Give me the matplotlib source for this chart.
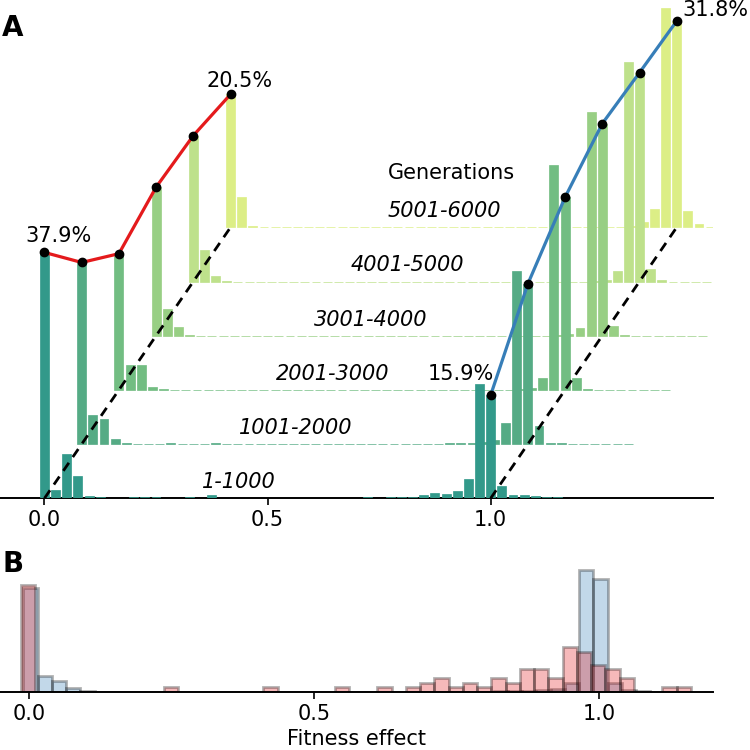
import matplotlib
matplotlib.use("Agg")
import matplotlib.pyplot as plt
import numpy as np

# ---------------- Panel A data (percent of mutations per bin) ----------------
bin_width_a = 0.025
bin_centers_a = np.arange(50) * bin_width_a          # bins centred on 0, 0.025, ... 1.225
gen_labels = ["1-1000", "1001-2000", "2001-3000", "3001-4000", "4001-5000", "5001-6000"]

gen1 = [37.9, 1.3, 6.8, 3.5, 0.36, 0.15, 0, 0.1, 0.15, 0.25,
        0.25, 0.1, 0, 0.2, 0, 0.5, 0, 0, 0.05, 0,
        0.05, 0, 0, 0.05, 0, 0.05, 0.1, 0.05, 0.1, 0.15,
        0.1, 0.15, 0.15, 0.26, 0.5, 0.87, 0.62, 1.08, 2.9, 17.6,
        15.9, 1.95, 0.5, 0.46, 0.36, 0.2, 0.2, 0.05, 0.1, 0]
gen2 = [28.0, 4.5, 3.85, 0.77, 0.1, 0.05, 0, 0, 0.1, 0.05,
        0, 0.05, 0.1, 0, 0, 0, 0.05, 0, 0, 0,
        0, 0.05, 0, 0, 0, 0, 0.05, 0, 0, 0.05,
        0, 0.05, 0.05, 0.1, 0.1, 0.15, 0.3, 0.67, 3.2, 26.7,
        24.7, 2.8, 0.15, 0.1, 0.05, 0, 0, 0, 0, 0]
gen3 = [21.0, 3.85, 3.8, 0.5, 0.1, 0, 0, 0, 0, 0,
        0, 0, 0, 0, 0, 0, 0, 0, 0, 0,
        0, 0, 0, 0, 0, 0, 0, 0, 0, 0,
        0, 0, 0, 0, 0, 0.05, 0.1, 0.3, 1.85, 34.6,
        29.7, 1.85, 0.1, 0, 0, 0, 0, 0, 0, 0]
gen4 = [22.9, 4.06, 1.39, 0.1, 0, 0, 0, 0, 0, 0,
        0, 0, 0, 0, 0, 0, 0, 0, 0, 0,
        0, 0, 0, 0, 0, 0, 0, 0, 0, 0,
        0, 0, 0, 0, 0, 0, 0.05, 0.2, 1.2, 34.5,
        32.7, 1.5, 0.1, 0, 0, 0, 0, 0, 0, 0]
gen5 = [22.5, 4.9, 0.92, 0.15, 0, 0, 0, 0, 0, 0,
        0, 0, 0, 0, 0, 0, 0, 0, 0, 0,
        0, 0, 0, 0, 0, 0, 0, 0, 0, 0,
        0, 0, 0, 0, 0, 0, 0.1, 0.3, 1.6, 33.8,
        32.2, 2.0, 0.2, 0, 0, 0, 0, 0, 0, 0]
gen6 = [20.5, 4.6, 0.15, 0.1, 0, 0, 0, 0, 0, 0,
        0, 0, 0, 0, 0, 0, 0, 0, 0, 0,
        0, 0, 0, 0, 0, 0, 0, 0, 0, 0,
        0, 0, 0, 0, 0, 0, 0.26, 0.77, 2.8, 33.8,
        31.8, 2.56, 0.5, 0.1, 0, 0, 0, 0, 0, 0]
generations = [gen1, gen2, gen3, gen4, gen5, gen6]
gen_colors = ["#32998a", "#55ab85", "#72bd82", "#98cf84", "#bee18b", "#dcee86"]

# ---------------- Panel B data ----------------
red_edges_start = -0.0145
red_counts = [24, 0, 0, 0, 0, 0, 0, 0, 0, 0,
              1, 0, 0, 0, 0, 0, 0, 1, 0, 0,
              0, 0, 1, 0, 0, 1, 0, 1, 2, 3,
              1, 2, 1, 3, 2, 5, 5, 3, 10, 9,
              6, 5, 3, 0, 0, 1, 1]
blue_edges_start = -0.0105
blue_heights = [23.3, 3.6, 2.5, 0.75, 0.1, 0, 0, 0, 0, 0,
                0, 0, 0, 0, 0, 0, 0, 0, 0, 0,
                0, 0, 0, 0, 0, 0, 0, 0, 0, 0,
                0, 0, 0, 0.1, 0.15, 0.2, 0.3, 0.6, 2.0, 27.35,
                25.3, 1.9, 0.3, 0.1]
bin_width_b = 0.025

plt.rcParams["font.family"] = ["DejaVu Sans"]
FS = 15

fig = plt.figure(figsize=(7.5, 7.5), dpi=100)

# ---------------- Panel A ----------------
W, H = 750.0, 750.0
axA = fig.add_axes([0, 1 - 498.3 / H, 713.3 / W, 498.3 / H])
px_per_pct = 6.487
axA.set_xlim(-0.0997, 1.499)
axA.set_ylim(0, 498.3 / px_per_pct)
dx = 0.0834
dy = 8.355

for g, (vals, col) in enumerate(zip(generations, gen_colors)):
    axA.bar(bin_centers_a + g * dx, vals, width=0.02, bottom=g * dy,
            color=col, edgecolor=col, linewidth=0.5, zorder=10 - g)
    axA.text(0.3528 + g * dx, g * dy + 1.55, gen_labels[g], fontsize=FS,
             style="italic", ha="left", va="baseline", zorder=30)
axA.text(0.769, 5 * dy + 7.4, "Generations", fontsize=FS, ha="left",
         va="baseline", zorder=30)

# lines following the peaks at 0 and 1
i0 = 0
i1 = 40
xs0 = [bin_centers_a[i0] + g * dx for g in range(6)]
ys0 = [generations[g][i0] + g * dy for g in range(6)]
xs1 = [bin_centers_a[i1] + g * dx for g in range(6)]
ys1 = [generations[g][i1] + g * dy for g in range(6)]
axA.plot(xs0, ys0, color="#e41a1c", lw=2.3, zorder=25)
axA.plot(xs1, ys1, color="#377eb8", lw=2.3, zorder=25)
axA.plot(xs0 + xs1, ys0 + ys1, "o", color="black", ms=6, zorder=26)

# dashed diagonal guides
axA.plot([0, 5 * dx], [0, 5 * dy], ls=(0, (3.5, 2.5)), color="black", lw=2, zorder=24)
axA.plot([1, 1 + 5 * dx], [0, 5 * dy], ls=(0, (3.5, 2.5)), color="black", lw=2, zorder=24)

# percentage labels
axA.text(xs0[0] + 0.031, ys0[0] + 1.66, f"{gen1[i0]:.1f}%", fontsize=FS, ha="center", va="baseline")
axA.text(xs0[5] + 0.021, ys0[5] + 1.17, f"{gen6[i0]:.1f}%", fontsize=FS, ha="center", va="baseline")
axA.text(xs1[0] - 0.067, ys1[0] + 2.3, f"{gen1[i1]:.1f}%", fontsize=FS, ha="center", va="baseline")
axA.text(xs1[5] + 0.013, ys1[5] + 0.8, f"{gen6[i1]:.1f}%", fontsize=FS, ha="left", va="baseline")

for s in ["top", "right", "left"]:
    axA.spines[s].set_visible(False)
axA.spines["bottom"].set_linewidth(1.4)
axA.set_yticks([])
axA.set_xticks([0.0, 0.5, 1.0])
axA.set_xticklabels(["0.0", "0.5", "1.0"])
axA.tick_params(axis="x", labelsize=FS, width=1.2, length=5)
axA.patch.set_alpha(0)

# ---------------- Panel B ----------------
px_per_count = 4.45
axB = fig.add_axes([0, 1 - 691.7 / H, 713.0 / W, (691.7 - 550) / H])
axB.set_xlim(-0.0514, 1.1995)
axB.set_ylim(0, (691.7 - 550) / px_per_count)

blue_left = blue_edges_start + np.arange(len(blue_heights)) * bin_width_b
red_left = red_edges_start + np.arange(len(red_counts)) * bin_width_b
axB.bar(blue_left, blue_heights, width=bin_width_b, align="edge",
        facecolor=(0.216, 0.494, 0.722, 0.3), edgecolor=(0, 0, 0, 0.3), linewidth=2)
axB.bar(red_left, red_counts, width=bin_width_b, align="edge",
        facecolor=(0.894, 0.102, 0.110, 0.3), edgecolor=(0, 0, 0, 0.3), linewidth=2)

for s in ["top", "right", "left"]:
    axB.spines[s].set_visible(False)
axB.spines["bottom"].set_linewidth(1.4)
axB.set_yticks([])
axB.set_xticks([0.0, 0.5, 1.0])
axB.set_xticklabels(["0.0", "0.5", "1.0"])
axB.tick_params(axis="x", labelsize=FS, width=1.2, length=5)
axB.set_xlabel("Fitness effect", fontsize=FS, labelpad=4)
axB.patch.set_alpha(0)

fig.text(0.003, 1 - 36 / H, "A", fontsize=20, fontweight="bold", ha="left", va="baseline")
fig.text(0.003, 1 - 572 / H, "B", fontsize=20, fontweight="bold", ha="left", va="baseline")

fig.savefig("out.png", dpi=100)
